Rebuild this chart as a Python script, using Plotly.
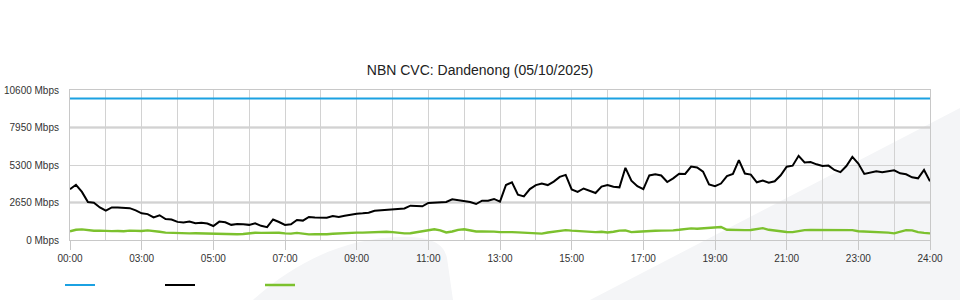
import plotly.graph_objects as go

# ---- data (10-minute samples, 00:00 .. 24:00) ----
interval_min = 10
capacity_mbps = [10000] * 145
used_mbps = [
    3583, 3900, 3400, 2680, 2640, 2300, 2071, 2300, 2300, 2270,
    2250, 2090, 1887, 1830, 1600, 1750, 1480, 1450, 1280, 1240,
    1300, 1180, 1220, 1160, 989, 1300, 1251, 1070, 1131, 1120,
    1070, 1180, 1000, 910, 1450, 1270, 1060, 1110, 1410, 1370,
    1630, 1590, 1576, 1580, 1690, 1630, 1720, 1816, 1860, 1887,
    1930, 2060, 2100, 2110, 2180, 2191, 2230, 2424, 2424, 2380,
    2620, 2650, 2636, 2690, 2880, 2827, 2770, 2680, 2544, 2780,
    2780, 2900, 2707, 3887, 4077, 3200, 3080, 3600, 3880, 3990,
    3880, 4130, 4460, 4600, 3570, 3405, 3640, 3470, 3320, 3770,
    3887, 3760, 3720, 5100, 4190, 3800, 3600, 4560, 4650, 4560,
    4100, 4360, 4680, 4670, 5190, 5120, 4827, 3930, 3800, 3990,
    4510, 4664, 5640, 4700, 4620, 4080, 4200, 4049, 4150, 4570,
    5180, 5250, 5950, 5480, 5510, 5349, 5235, 5260, 4950, 4800,
    5229, 5870, 5400, 4670, 4780, 4850, 4790, 4840, 4920, 4713,
    4645, 4430, 4360, 4947, 4150,
]
upload_mbps = [
    620, 720, 750, 680, 650, 660, 620, 630, 640, 620,
    660, 630, 640, 680, 650, 580, 520, 500, 470, 480,
    470, 480, 470, 470, 410, 410, 420, 400, 410, 420,
    480, 510, 500, 510, 500, 510, 470, 450, 500, 440,
    400, 410, 400, 410, 440, 470, 500, 510, 520, 520,
    540, 590, 590, 580, 560, 500, 470, 480, 560, 640,
    700, 760, 680, 530, 600, 720, 760, 680, 600, 610,
    620, 590, 560, 580, 560, 540, 510, 460, 430, 450,
    530, 580, 650, 700, 660, 630, 620, 560, 560, 580,
    530, 580, 660, 680, 560, 580, 620, 630, 650, 660,
    660, 680, 720, 760, 820, 800, 830, 840, 860, 920,
    720, 700, 700, 700, 710, 800, 840, 720, 650, 620,
    570, 560, 630, 700, 710, 710, 710, 710, 710, 710,
    700, 700, 620, 600, 590, 600, 560, 520, 470, 600,
    700, 680, 560, 500, 470,
]
x_tick_hours = [0, 2, 4, 6, 8, 10, 12, 14, 16, 18, 20, 22, 24]
x_tick_labels = ["00:00", "03:00", "05:00", "07:00", "09:00", "11:00", "13:00",
                 "15:00", "17:00", "19:00", "21:00", "23:00", "24:00"]
y_tick_values = [0, 2650, 5300, 7950, 10600]
y_tick_labels = ["0 Mbps", "2650 Mbps", "5300 Mbps", "7950 Mbps", "10600 Mbps"]
dark_grid_values = [2650, 7950]

hours = [i * interval_min / 60 for i in range(len(used_mbps))]

FONT = "Arial, 'Liberation Sans', Helvetica, sans-serif"

fig = go.Figure()
fig.add_trace(go.Scatter(x=hours, y=capacity_mbps, mode="lines", name="",
                         line=dict(color="#1ba1e2", width=2.2)))
fig.add_trace(go.Scatter(x=hours, y=used_mbps, mode="lines", name="",
                         line=dict(color="#000000", width=2)))
fig.add_trace(go.Scatter(x=hours, y=upload_mbps, mode="lines", name="",
                         line=dict(color="#7cc12e", width=2.4)))

def px_x(x):
    return (x - 70) / 860

def px_y(y):
    return (240 - y) / 150

shapes = []
# background watermark (decorative)
shapes.append(dict(
    type="path", xref="paper", yref="paper", layer="below",
    path=f"M {px_x(590)},{px_y(300)} L {px_x(960)},{px_y(108)} L {px_x(960)},{px_y(300)} Z",
    fillcolor="#f4f5f7", line=dict(width=0)))
shapes.append(dict(
    type="path", xref="paper", yref="paper", layer="below",
    path=(f"M {px_x(253)},{px_y(300)} "
          f"C {px_x(295)},{px_y(262)} {px_x(345)},{px_y(238)} {px_x(400)},{px_y(237)} "
          f"C {px_x(432)},{px_y(236)} {px_x(444)},{px_y(244)} {px_x(447)},{px_y(258)} "
          f"L {px_x(453)},{px_y(300)} Z"),
    fillcolor="#f4f5f7", line=dict(width=0)))
for v in dark_grid_values:
    shapes.append(dict(type="line", xref="paper", yref="y", x0=0, x1=1, y0=v, y1=v,
                       layer="below", line=dict(color="#c4c4c4", width=2)))

fig.update_layout(
    width=960, height=300,
    margin=dict(l=70, r=30, t=90, b=60, autoexpand=False),
    paper_bgcolor="white",
    plot_bgcolor="rgba(0,0,0,0)",
    font=dict(family=FONT, size=10, color="#333333"),
    title=dict(text="NBN CVC: Dandenong (05/10/2025)", x=0.5, xref="container",
               y=1 - 70 / 300, yref="container", yanchor="middle",
               font=dict(family=FONT, size=14, color="#222222")),
    showlegend=True,
    legend=dict(orientation="h", x=-10 / 860, xanchor="left",
                y=1 - 285 / 300, yref="container", yanchor="middle",
                entrywidth=55, entrywidthmode="pixels",
                font=dict(size=11), bgcolor="rgba(0,0,0,0)"),
    shapes=shapes,
    hovermode=False,
)
fig.update_xaxes(
    range=[0, 24], tickmode="array", tickvals=x_tick_hours, ticktext=x_tick_labels,
    showgrid=True, gridcolor="#d2d2d2", gridwidth=1,
    ticks="outside", ticklen=9, tickcolor="#c8c8c8",
    showline=True, linecolor="#c8c8c8", mirror=True,
    zeroline=False,
    minor=dict(tickmode="array", tickvals=list(range(1, 24, 2)), showgrid=True,
               gridcolor="#d2d2d2", gridwidth=1, ticks=""),
    tickfont=dict(size=10, color="#333333"),
)
fig.update_yaxes(
    range=[0, 10600], tickmode="array", tickvals=y_tick_values, ticktext=y_tick_labels,
    showgrid=True, gridcolor="#d2d2d2", gridwidth=1,
    showline=True, linecolor="#c8c8c8", mirror=True, zeroline=False,
    ticks="", ticklabelstandoff=8,
    tickfont=dict(size=10, color="#333333"),
)

fig.write_html("out.html")
